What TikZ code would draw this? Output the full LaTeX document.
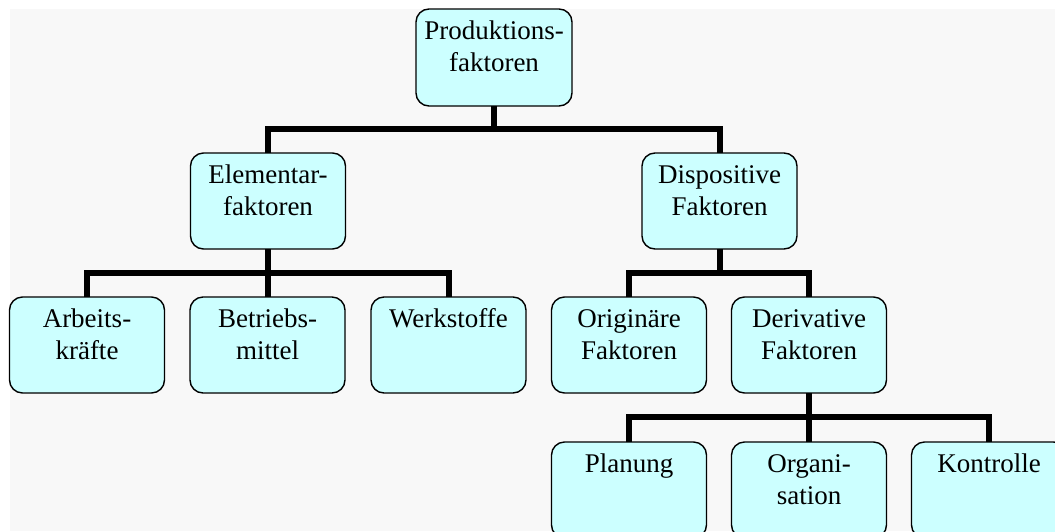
\documentclass[tikz,border=0pt]{standalone}
\usepackage{fontspec}
\setmainfont{Liberation Serif}
\definecolor{boxfill}{HTML}{CCFFFF}
\definecolor{pagebg}{HTML}{F8F8F8}
% top-aligned two-line box label: first baseline 30pt below the box top
\newcommand\boxlabel[1]{\parbox[c][96pt][t]{155pt}{\centering\fontsize{27}{32}\selectfont\rule{0pt}{30pt}#1}}
\tikzset{
  factor/.style={draw=black, line width=1.4pt, fill=boxfill, rounded corners=13pt,
                 inner sep=0pt, outer sep=0pt, anchor=north},
  link/.style={line width=6pt, draw=black, line join=miter},
}
\begin{document}
\begin{tikzpicture}[x=1pt, y=-1pt]
  \useasboundingbox (0,0) rectangle (1055,531);
  \clip (0,0) rectangle (1055,531);
  \fill[white] (0,0) rectangle (1055,531);
  \fill[pagebg] (10,9) rectangle (1055,531);

  % level 0
  \node[factor] (prod) at (494,9) {\parbox[c][97pt][t]{156pt}{\centering\fontsize{27}{32}\selectfont\rule{0pt}{30pt}Produktions-\\faktoren}};

  % level 1
  \node[factor] (elem) at (268,153) {\boxlabel{Elementar-\\faktoren}};
  \node[factor] (disp) at (719.5,153) {\boxlabel{Dispositive\\Faktoren}};

  % level 2
  \node[factor] (arb)  at (87,297)  {\boxlabel{Arbeits-\\kräfte}};
  \node[factor] (betr) at (267.5,297) {\boxlabel{Betriebs-\\mittel}};
  \node[factor] (werk) at (448.5,297) {\boxlabel{Werkstoffe}};
  \node[factor] (orig) at (629,297) {\boxlabel{Originäre\\Faktoren}};
  \node[factor] (deriv) at (809,297) {\boxlabel{Derivative\\Faktoren}};

  % level 3
  \node[factor] (plan) at (629,442) {\boxlabel{Planung}};
  \node[factor] (orga) at (809,442) {\boxlabel{Organi-\\sation}};
  \node[factor] (kontr) at (989,442) {\boxlabel{Kontrolle}};

  % connectors
  \draw[link] (prod.south) -- ++(0,23);
  \draw[link] (elem.north) -- ++(0,-24) -| (disp.north);

  \draw[link] (elem.south) -- ++(0,24);
  \draw[link] (arb.north) -- ++(0,-24) -| (werk.north);
  \draw[link] (betr.north) -- ++(0,-24);

  \draw[link] (disp.south) -- ++(0,24);
  \draw[link] (orig.north) -- ++(0,-24) -| (deriv.north);

  \draw[link] (deriv.south) -- ++(0,24);
  \draw[link] (plan.north) -- ++(0,-25) -| (kontr.north);
  \draw[link] (orga.north) -- ++(0,-25);
\end{tikzpicture}
\end{document}
